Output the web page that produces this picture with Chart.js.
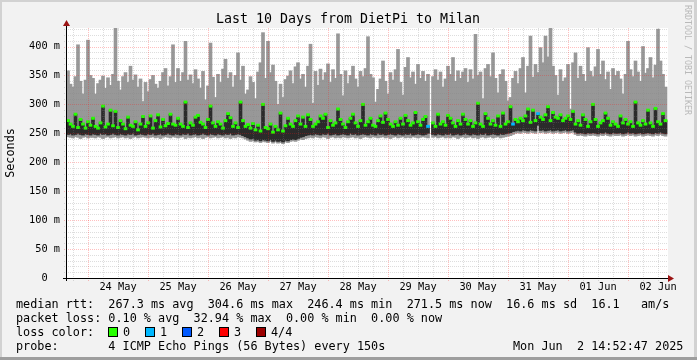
<!DOCTYPE html>
<html>
<head>
<meta charset="utf-8">
<script src="https://cdn.jsdelivr.net/npm/chart.js@4.4.1/dist/chart.umd.min.js"></script>
<style>
html,body{margin:0;padding:0;background:#f2f2f2;overflow:hidden}
#wrap{position:relative;width:697px;height:360px}
canvas{display:block}
</style>
</head>
<body>
<div id="wrap"><canvas id="c" width="697" height="360"></canvas></div>
<script>
// ---------------- data ----------------
// one sample per hour; first sample = May 23 16:00 (hours relative to May 24 00:00)
const firstHour = -8;
const dayLabels = ['24 May','25 May','26 May','27 May','28 May','29 May','30 May','31 May','01 Jun','02 Jun'];
const dayNoonHours = [12, 36, 60, 84, 108, 132, 156, 180, 204, 228];

// top of the smoke (slowest ping), ms
const smokeTop = [
358,335,330,348,403,340,318,342,411,350,
345,318,336,342,349,328,346,333,352,432,
340,325,348,355,338,366,342,351,330,344,
305,338,322,343,350,335,328,340,355,362,
332,348,403,338,362,340,355,409,342,351,
336,360,344,328,357,308,332,406,347,312,
352,338,361,378,345,355,330,350,389,342,
366,318,325,348,338,310,356,372,424,345,
409,355,368,340,300,335,312,343,349,358,
336,365,372,344,352,330,366,404,302,357,
333,361,342,355,370,338,360,345,422,352,
315,358,336,350,366,344,330,357,348,362,
417,352,346,304,326,344,375,340,318,355,
342,360,395,338,316,364,381,346,356,335,
369,345,357,340,352,null,348,360,342,356,
330,344,366,352,381,340,358,345,356,362,
338,360,344,421,350,356,310,362,369,348,
389,345,320,352,360,340,306,312,345,357,
336,362,381,320,366,418,347,369,355,398,
372,418,382,432,366,350,316,360,340,346,
369,292,372,389,345,366,352,340,398,357,
348,365,395,352,375,343,356,326,362,350,
357,344,318,352,409,360,348,375,356,340,
400,354,362,381,346,368,430,375,352,330
];

// median rtt, ms
const median = [
272,266,262,283,260,274,266,259,270,264,
276,262,259,268,297,261,266,290,263,288,
260,272,266,258,278,264,262,270,256,266,
279,262,268,280,259,272,282,261,274,263,
267,283,266,264,276,266,262,304,260,268,
264,278,281,269,266,260,274,297,268,262,
270,266,259,272,284,277,262,268,260,304,
272,262,265,259,267,256,264,254,300,260,
258,266,252,262,256,285,254,263,276,266,
262,272,280,266,278,262,282,274,262,266,
270,280,276,283,260,272,264,268,292,274,
266,260,270,276,283,268,262,272,300,264,
270,276,264,262,272,280,269,285,274,266,
262,270,264,276,266,281,272,264,268,286,
270,264,274,279,262,null,268,262,283,266,
270,264,281,276,268,262,272,266,283,274,
266,272,262,268,302,266,262,284,276,266,
272,264,280,262,285,266,270,296,266,274,
270,276,272,280,292,269,290,272,284,278,
274,282,296,272,286,278,276,282,272,276,
280,274,288,266,272,264,282,274,262,270,
300,274,262,268,272,285,276,264,270,266,
262,280,268,274,266,270,262,304,268,264,
272,266,290,268,262,293,270,266,284,272
];

// bottom of the smoke (fastest ping), ms
const smokeLow = [
244,243,242,244,243,241,243,244,242,243,
243,242,244,243,241,243,244,242,243,244,
242,243,244,242,243,241,243,244,242,243,
244,243,242,243,244,242,243,241,243,244,
243,242,244,243,242,243,244,241,243,242,
243,244,242,243,241,243,244,242,243,244,
242,243,244,242,243,241,243,242,244,243,
242,240,238,236,237,235,236,234,236,235,
234,236,233,235,233,234,232,235,234,236,
237,236,238,240,239,241,242,243,242,244,
243,242,244,243,241,243,244,242,243,242,
244,243,242,243,244,242,243,241,243,244,
243,242,244,243,242,243,244,242,243,241,
243,244,242,243,244,242,243,242,244,243,
242,243,244,243,242,null,243,244,242,243,
244,242,243,242,244,243,241,243,244,242,
243,244,242,243,241,243,244,242,243,244,
242,243,244,242,243,244,245,246,248,250,
251,250,252,251,250,252,251,250,264,251,
252,250,251,252,250,251,252,250,251,252,
250,251,252,248,246,247,246,245,247,246,
247,246,245,247,246,248,246,245,247,246,
246,247,245,246,248,246,247,245,246,247,
245,246,247,246,245,247,246,248,246,245
];

// lower edge of the dense (dark) smoke under the median, ms
const denseLow = [
248,249,247,248,250,248,247,249,248,247,
249,248,247,250,248,249,247,248,250,248,
247,249,248,247,249,248,250,247,248,249,
248,247,249,248,250,247,248,249,247,248,
250,248,247,249,248,247,249,248,250,247,
248,249,247,248,250,248,247,249,248,247,
249,248,247,249,248,250,247,248,249,248,
246,244,242,240,241,238,239,237,239,238,
237,239,236,238,236,237,235,238,237,239,
240,239,241,243,244,246,247,248,247,249,
248,247,249,248,250,247,248,249,247,248,
249,248,247,250,248,249,247,248,249,248,
247,249,248,247,250,248,249,247,248,249,
248,247,249,248,247,249,248,250,247,248,
249,248,247,248,250,null,248,247,249,248,
247,249,248,250,247,248,249,247,248,250,
248,247,249,248,247,249,248,250,247,248,
249,248,247,249,248,249,250,251,253,254,
255,254,256,255,254,256,255,254,264,255,
256,254,255,256,254,255,256,254,255,256,
254,255,256,252,250,251,250,249,251,250,
251,250,249,251,250,252,250,249,251,250,
250,251,249,250,252,250,251,249,250,251,
249,250,251,250,249,251,250,252,250,249
];

// samples with lost pings (sample index, pings lost of 4)
const lossSample = [144, 178, 188];
const lossCount  = [1, 1, 1];

const titleText = 'Last 10 Days from DietPi to Milan';
const unitText = 'Seconds';
const watermark = 'RRDTOOL / TOBI OETIKER';
const statLine1 = 'median rtt:  267.3 ms avg  304.6 ms max  246.4 ms min  271.5 ms now  16.6 ms sd  16.1   am/s';
const statLine2 = 'packet loss: 0.10 % avg  32.94 % max  0.00 % min  0.00 % now';
const lossTitle = 'loss color:';
const lossKeys = ['0', '1', '2', '3', '4/4'];
const probeLine = 'probe:       4 ICMP Echo Pings (56 Bytes) every 150s';
const stampText = 'Mon Jun  2 14:52:47 2025';

// ---------------- styles ----------------
const MONO = "'DejaVu Sans Mono', 'Liberation Mono', monospace";
const LOSS_COLORS = ['#26ff00', '#00b8ff', '#0059ff', '#ff0000', '#9b0000'];
const GRID_MINOR = 'rgba(128,128,128,0.27)';
const GRID_MAJOR = 'rgba(255,20,20,0.27)';

// ---------------- build datasets ----------------
const smokeData = [], denseData = [], medianData = [];
for (let i = 0; i < smokeTop.length; i++) {
  const h = firstHour + i;
  if (smokeTop[i] == null) continue;
  const li = lossSample.indexOf(i);
  const lost = li >= 0 ? lossCount[li] : 0;
  smokeData.push({x: h, y: [smokeLow[i], smokeTop[i]]});
  denseData.push({x: h, y: [denseLow[i], median[i]]});
  medianData.push({x: h, y: [median[i] - 2, median[i] + 2], loss: lost});
}

const frame = {
  id: 'frame',
  beforeDraw(chart) {
    const {ctx, chartArea: a, width, height} = chart;
    ctx.save();
    ctx.fillStyle = '#f2f2f2';
    ctx.fillRect(0, 0, width, height);
    ctx.fillStyle = '#d2d2d2';
    ctx.fillRect(0, 0, width, 2);
    ctx.fillRect(0, 0, 2, height);
    ctx.fillRect(width - 3, 0, 3, height);
    ctx.fillStyle = '#9e9e9e';
    ctx.fillRect(0, height - 3, width, 3);
    ctx.fillStyle = '#ffffff';
    ctx.fillRect(a.left, a.top, a.right - a.left, a.bottom - a.top);
    ctx.restore();
  },
  afterDatasetsDraw(chart) {
    const {ctx, chartArea: a, scales} = chart;
    const xs = scales.x, ys = scales.y;
    ctx.save();
    ctx.lineWidth = 1;
    ctx.setLineDash([1, 1]);
    // horizontal grid every 10 ms, red every 50 ms
    for (let v = 10; v <= ys.max; v += 10) {
      const py = Math.round(ys.getPixelForValue(v)) + 0.5;
      ctx.strokeStyle = v % 50 === 0 ? GRID_MAJOR : GRID_MINOR;
      ctx.beginPath(); ctx.moveTo(a.left - 3, py); ctx.lineTo(a.right, py); ctx.stroke();
    }
    // vertical grid every 6 h, red at midnight
    for (let h = Math.ceil(xs.min / 6) * 6; h <= xs.max; h += 6) {
      const px = Math.round(xs.getPixelForValue(h)) + 0.5;
      ctx.strokeStyle = ((h % 24) + 24) % 24 === 0 ? GRID_MAJOR : GRID_MINOR;
      ctx.beginPath(); ctx.moveTo(px, a.top); ctx.lineTo(px, a.bottom + 3); ctx.stroke();
    }
    ctx.setLineDash([]);
    // axes
    ctx.strokeStyle = '#000';
    const yb = a.bottom + 0.5, xl = a.left - 0.5;
    ctx.beginPath(); ctx.moveTo(a.left - 4, yb); ctx.lineTo(a.right + 1, yb); ctx.stroke();
    ctx.beginPath(); ctx.moveTo(xl, a.bottom + 3); ctx.lineTo(xl, a.top - 3); ctx.stroke();
    // arrows
    ctx.fillStyle = '#9b1414';
    ctx.beginPath(); ctx.moveTo(a.right, yb - 3.5); ctx.lineTo(a.right + 6, yb); ctx.lineTo(a.right, yb + 3.5); ctx.closePath(); ctx.fill();
    ctx.beginPath(); ctx.moveTo(xl - 3.5, a.top - 2); ctx.lineTo(xl, a.top - 8); ctx.lineTo(xl + 3.5, a.top - 2); ctx.closePath(); ctx.fill();
    ctx.restore();
  },
  afterDraw(chart) {
    const {ctx, chartArea: a} = chart;
    ctx.save();
    ctx.fillStyle = '#000';
    ctx.textBaseline = 'middle';
    // title
    ctx.font = '13.3px ' + MONO;
    ctx.textAlign = 'center';
    ctx.fillText(titleText, 348, 19.5);
    // unit label
    ctx.save();
    ctx.font = '11.8px ' + MONO;
    ctx.translate(11, (a.top + a.bottom) / 2);
    ctx.rotate(-Math.PI / 2);
    ctx.fillText(unitText, 0, 0);
    ctx.restore();
    // watermark
    ctx.save();
    ctx.font = '8.3px ' + MONO;
    ctx.fillStyle = '#b9b9b9';
    ctx.textAlign = 'left';
    ctx.translate(687, 5);
    ctx.rotate(Math.PI / 2);
    ctx.fillText(watermark, 0, 0);
    ctx.restore();
    // legend / stats
    ctx.font = '11.8px ' + MONO;
    ctx.textAlign = 'left';
    ctx.fillText(statLine1, 16, 304.5);
    ctx.fillText(statLine2, 16, 318.5);
    ctx.fillText(lossTitle, 16, 332.5);
    lossKeys.forEach((k, i) => {
      const bx = 108 + i * 37;
      ctx.fillStyle = LOSS_COLORS[i];
      ctx.fillRect(bx, 327, 10, 10);
      ctx.strokeStyle = '#000';
      ctx.lineWidth = 1;
      ctx.strokeRect(bx + 0.5, 327.5, 9, 9);
      ctx.fillStyle = '#000';
      ctx.fillText(k, bx + 15, 332.5);
    });
    ctx.fillText(probeLine, 16, 346.8);
    ctx.fillText(stampText, 513, 346.8);
    ctx.restore();
  }
};

Chart.defaults.font.family = MONO;

new Chart(document.getElementById('c'), {
  type: 'bar',
  data: {
    datasets: [
      {label: 'median', data: medianData, order: 1, grouped: false, barThickness: 3,
       backgroundColor: c => LOSS_COLORS[(c.raw && c.raw.loss) || 0]},
      {label: 'dense', data: denseData, order: 2, grouped: false, barThickness: 3,
       backgroundColor: '#2b2b2b'},
      {label: 'smoke', data: smokeData, order: 3, grouped: false, barThickness: 3,
       backgroundColor: '#989898'}
    ]
  },
  options: {
    responsive: false,
    animation: false,
    devicePixelRatio: 1,
    layout: {padding: {left: 0, right: 29, top: 28, bottom: 0}},
    plugins: {legend: {display: false}, tooltip: {enabled: false}, title: {display: false}},
    scales: {
      x: {
        type: 'linear', min: -8.4, max: 232, offset: false,
        grid: {display: false, drawTicks: false}, border: {display: false},
        afterBuildTicks: s => { s.ticks = dayNoonHours.map(v => ({value: v})); },
        ticks: {
          autoSkip: false, maxRotation: 0, minRotation: 0, padding: 3,
          color: '#000', font: {size: 10.3, family: MONO},
          callback: (v, i) => dayLabels[i]
        },
        afterFit: s => { s.height = 82; }
      },
      y: {
        min: 0, max: 432,
        grid: {display: false, drawTicks: false}, border: {display: false},
        ticks: {
          stepSize: 50, padding: 7, color: '#000', font: {size: 10.3, family: MONO},
          callback: v => (v % 50 !== 0 ? '' : (v === 0 ? '0  ' : v + ' m'))
        },
        afterFit: s => { s.width = 67; }
      }
    }
  },
  plugins: [frame]
});
</script>
</body>
</html>
